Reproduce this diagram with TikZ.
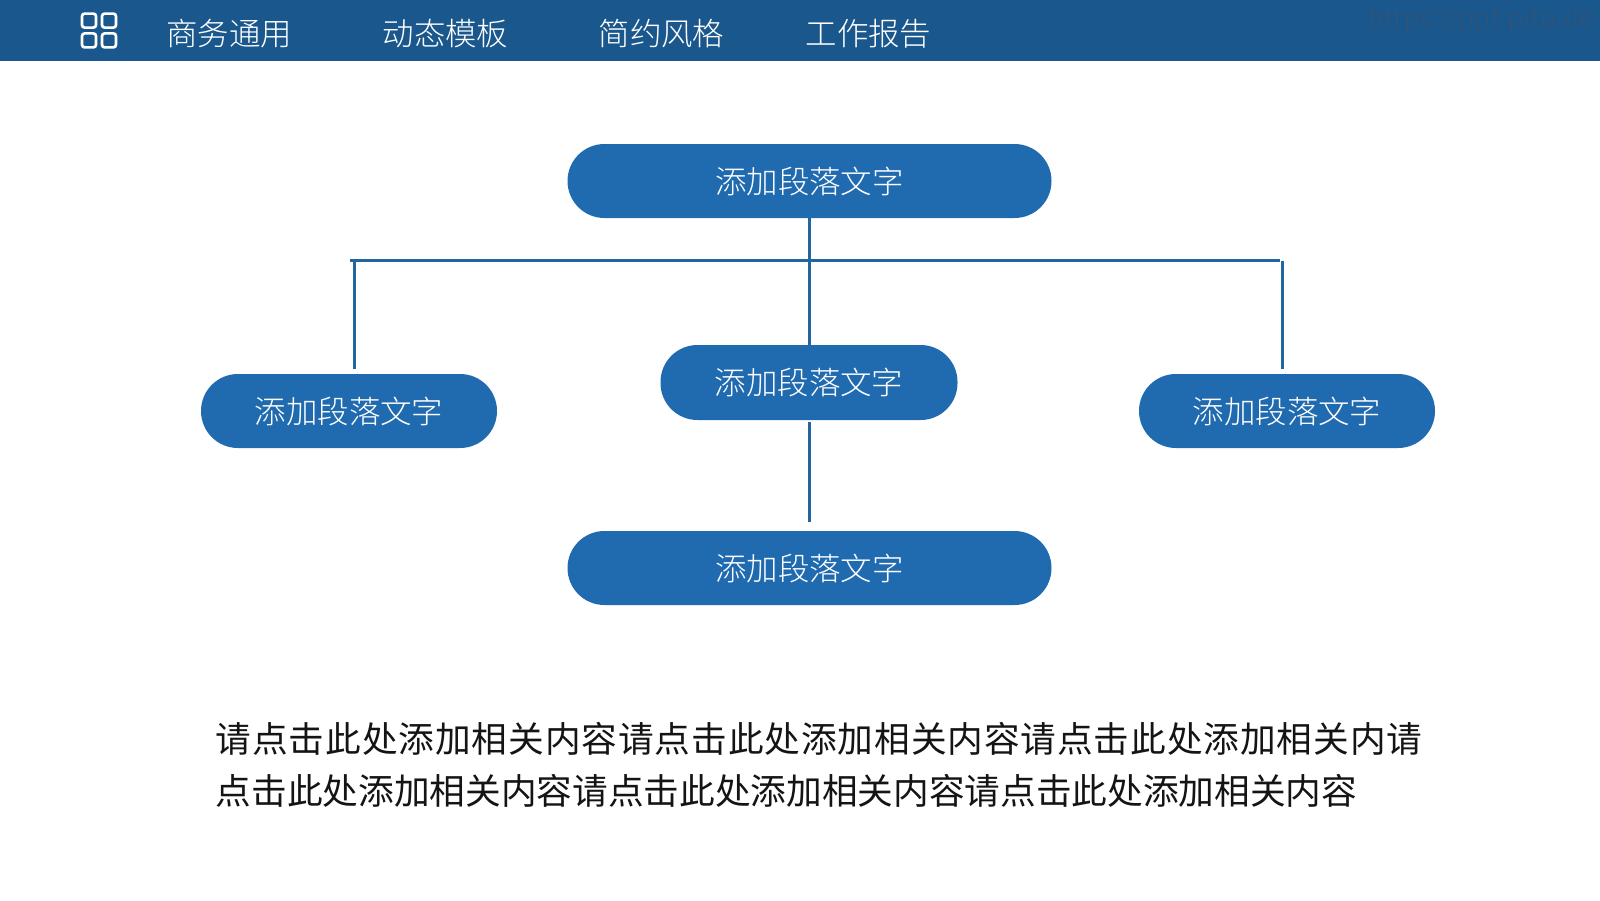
\documentclass[tikz,border=0pt]{standalone}
\usepackage{fontspec}
\setmainfont{Noto Sans CJK SC}
\newfontfamily\lightcjk{Noto Sans CJK SC Light}
\usepackage{tikz}
\usetikzlibrary{positioning,calc}
\definecolor{barblue}{HTML}{1A578C}
\definecolor{pillblue}{HTML}{206BB0}
\definecolor{lineblue}{HTML}{22669F}
\definecolor{markgrey}{HTML}{29557F}
\tikzset{
  pill/.style={fill=pillblue,text=white,rounded corners=36.9*0.75pt,inner sep=0pt,
    font=\lightcjk\fontsize{23.6}{28}\selectfont},
  menuitem/.style={text=white,inner sep=0pt,font=\lightcjk\fontsize{23.6}{28}\selectfont},
  iconbox/.style={draw=white,line width=2pt,rounded corners=2pt,minimum width=10.5pt,
    minimum height=10.5pt,inner sep=0pt},
  link/.style={draw=lineblue,line width=2.2pt},
}

\begin{document}
\begin{tikzpicture}[x=0.75pt,y=-0.75pt]
  \useasboundingbox (0,0) rectangle (1600,900);
  \fill[barblue] (0,0) rectangle (1600,61);
  %menu bar
  \node[iconbox](i1) at (89,20.6) {};
  \node[iconbox](i2) at (109,20.6) {};
  \node[iconbox](i3) at (89,40.4) {};
  \node[iconbox](i4) at (109,40.4) {};
  \node[menuitem](m1) at (229,34) {商务通用};
  \node[menuitem](m2) at (445.5,34) {动态模板};
  \node[menuitem](m3) at (661.5,34) {简约风格};
  \node[menuitem](m4) at (868.5,34) {工作报告};
  \node[text=markgrey,inner sep=0pt,font=\fontsize{19.4}{22}\selectfont](mark) at (1481,20) {https://ppt.pitu.de};
  %boxes
  \node[pill,minimum width=484*0.75pt,minimum height=74*0.75pt](top) at (809.5,181) {\raisebox{-1pt}{添加段落文字}};
  \node[pill,minimum width=296*0.75pt,minimum height=74*0.75pt](left) at (349,411) {\raisebox{-1pt}{添加段落文字}};
  \node[pill,minimum width=297*0.75pt,minimum height=75*0.75pt](mid) at (809,382.5) {\raisebox{-1pt}{添加段落文字}};
  \node[pill,minimum width=296*0.75pt,minimum height=74*0.75pt](right) at (1287,411) {\raisebox{-1pt}{添加段落文字}};
  \node[pill,minimum width=484*0.75pt,minimum height=74*0.75pt](bottom) at (809.5,568) {\raisebox{-1pt}{添加段落文字}};
  %connectors
  \coordinate (busl) at (350,260.5);
  \coordinate (busr) at (1280,260.5);
  \coordinate (dropl) at (354.5,368.5);
  \coordinate (dropr) at (1282.5,368.5);
  \path[link] (busl) -- (busr);
  \path[link] (top.south -| 809.5,0) -- (mid.north -| 809.5,0);
  \path[link] ($(mid.south -| 809.5,0)+(0,2)$) -- ($(bottom.north -| 809.5,0)+(0,-9)$);
  \path[link] (dropl |- busl) -- (dropl);
  \path[link] (dropr |- busr) -- (dropr);
  %text below
  \node[anchor=north west,inner sep=0pt,align=left,text=black!92,
    font=\fontsize{26.75}{39}\selectfont](body) at (215.5,722) {{\addfontfeature{LetterSpace=2.6}请点击此处添加相关内容请点击此处添加相关内容请点击此处添加相关内请}\\点击此处添加相关内容请点击此处添加相关内容请点击此处添加相关内容};
\end{tikzpicture}
\end{document}
